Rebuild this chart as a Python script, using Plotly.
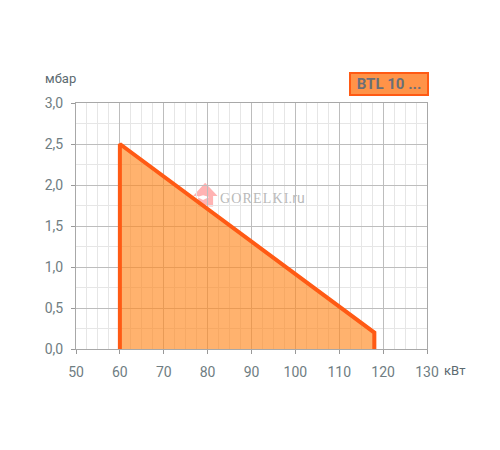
import plotly.graph_objects as go

# rating field of the burner
power_kw = [60, 60, 118, 118]
pressure_mbar = [0, 2.5, 0.2, 0]

x_ticks = [50, 60, 70, 80, 90, 100, 110, 120, 130]
y_ticks = [0.0, 0.5, 1.0, 1.5, 2.0, 2.5, 3.0]

x_unit = "кВт"
y_unit = "мбар"
model_label = "BTL 10 ..."
watermark = "G\u200aO\u200aR\u200aE\u200aL\u200aK\u200aI<span style='font-size:14px;font-family:Roboto'>.ru</span>"

TEXT = "#6f7d82"
MAJOR = "#bdbdbd"
MINOR = "#e6e6e6"
# the page has an 8px body margin, so everything below is shifted by it
PAGE = 8
WIDTH, HEIGHT = 500 - PAGE, 450 - PAGE
LEFT, RIGHT, TOP, BOTTOM = 75.5 - PAGE, 72.5, 102.5 - PAGE, 100.5


def px_x(p):
    return (p - PAGE - LEFT) / (WIDTH - LEFT - RIGHT)


def px_y(p):
    return 1 - (p - PAGE - TOP) / (HEIGHT - TOP - BOTTOM)


def logo_path(points):
    return "M " + " L ".join(f"{px_x(a):.4f},{px_y(b):.4f}" for a, b in points) + " Z"


fig = go.Figure(
    go.Scatter(
        x=power_kw,
        y=pressure_mbar,
        mode="lines",
        fill="toself",
        fillcolor="rgba(255,137,33,0.65)",
        line=dict(color="#ff5a14", width=4, simplify=False),
        hoverinfo="skip",
    )
)

fig.update_xaxes(
    range=[50, 130],
    tickvals=x_ticks,
    ticks="outside",
    ticklen=4,
    tickcolor="#999999",
    ticklabelstandoff=6,
    gridcolor=MAJOR,
    showline=True,
    linecolor="#a8a8a8",
    mirror=True,
    zeroline=False,
    minor=dict(dtick=2.5, showgrid=True, gridcolor=MINOR, ticks=""),
)
fig.update_yaxes(
    range=[0, 3],
    tickvals=y_ticks,
    tickformat=".1f",
    ticks="outside",
    ticklen=4,
    tickcolor="#999999",
    ticklabelstandoff=5,
    gridcolor=MAJOR,
    showline=True,
    linecolor="#a8a8a8",
    mirror=True,
    zeroline=False,
    minor=dict(dtick=0.25, showgrid=True, gridcolor=MINOR, ticks=""),
)

fig.update_layout(
    width=WIDTH,
    height=HEIGHT,
    autosize=False,
    showlegend=False,
    separators=", ",
    paper_bgcolor="white",
    plot_bgcolor="white",
    margin=dict(l=LEFT, r=RIGHT, t=TOP, b=BOTTOM, pad=0),
    font=dict(family="Roboto", size=14, color=TEXT),
    shapes=[
        dict(
            type="path",
            xref="paper",
            yref="paper",
            layer="below",
            line=dict(width=0),
            fillcolor="#ffb3b3",
            path=logo_path(
                [(205, 182.5), (217.5, 196), (213, 196), (213, 206.5),
                 (198, 206.5), (198, 196), (193, 196)]
            ),
        ),
        dict(
            type="path",
            xref="paper",
            yref="paper",
            layer="below",
            line=dict(width=0),
            fillcolor="white",
            path=logo_path([(197, 197), (203, 195), (209, 197), (203, 200)]),
        ),
    ],
    annotations=[
        dict(
            text=y_unit, xref="paper", yref="paper", x=px_x(42), y=px_y(78),
            xanchor="left", yanchor="middle", showarrow=False,
            font=dict(size=13, color="#5c6a70"),
        ),
        dict(
            text=x_unit, xref="paper", yref="paper", x=px_x(443), y=px_y(371),
            xanchor="left", yanchor="middle", showarrow=False,
            font=dict(size=13, color="#5c6a70"),
        ),
        dict(
            text=f"<b>{model_label}</b>", xref="paper", yref="paper", x=px_x(389), y=px_y(83),
            xanchor="center", yanchor="middle", showarrow=False,
            font=dict(size=15, color="#6b6f78"),
            bgcolor="#ff9348", bordercolor="#ff5a14", borderwidth=2,
            width=74, height=18,
        ),
        dict(
            text=watermark, xref="paper", yref="paper", x=px_x(218), y=px_y(198),
            xanchor="left", yanchor="middle", showarrow=False,
            font=dict(family="Liberation Serif", size=14, color="#b9b9b9"),
        ),
    ],
)

fig.write_html("out.html")
